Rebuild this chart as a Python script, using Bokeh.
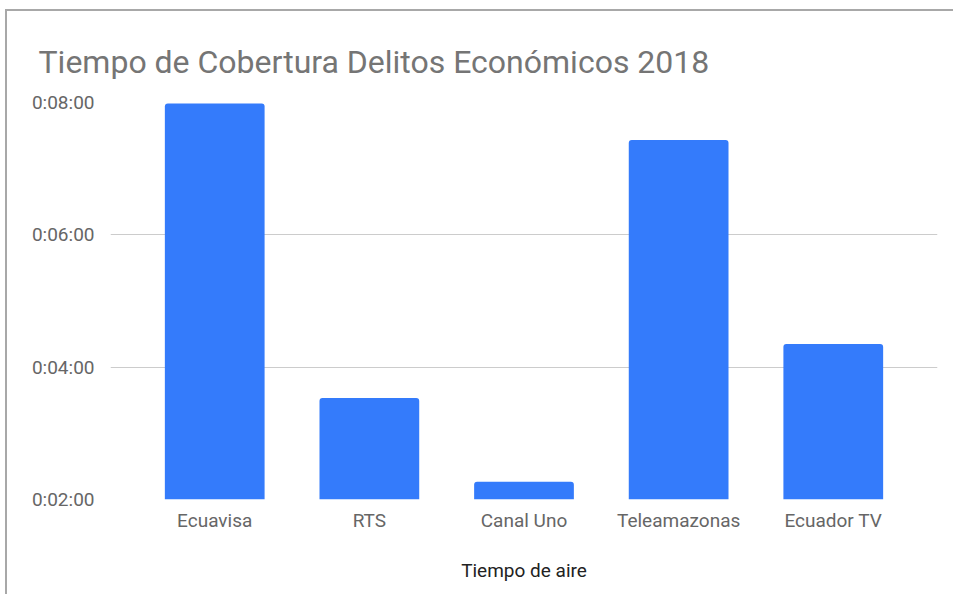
from bokeh.plotting import figure
from bokeh.models import FactorRange, FixedTicker, CustomJSTickFormatter, ColumnDataSource
from bokeh.embed import file_html
from bokeh.resources import INLINE

# ---- data ----
channels = ["Ecuavisa", "RTS", "Canal Uno", "Teleamazonas", "Ecuador TV"]
durations = ["0:07:59", "0:03:32", "0:02:16", "0:07:26", "0:04:21"]
y_ticks = ["0:02:00", "0:04:00", "0:06:00", "0:08:00"]
title_text = "Tiempo de Cobertura Delitos Económicos 2018"
x_title = "Tiempo de aire"


def to_sec(s):
    h, m, sec = s.split(":")
    return int(h) * 3600 + int(m) * 60 + int(sec)


secs = [to_sec(d) for d in durations]
tick_secs = [to_sec(t) for t in y_ticks]
base = tick_secs[0]

src = ColumnDataSource(dict(x=channels, top=secs, bottom=[base] * len(secs)))

FONT = "Roboto"

p = figure(
    x_range=FactorRange(*channels, range_padding=0.174, range_padding_units="absolute"),
    y_range=(tick_secs[0], tick_secs[-1]),
    width=948, height=585,
    output_backend="svg", toolbar_location=None,
    min_border_left=103, min_border_right=18, min_border_top=91, min_border_bottom=97,
    title=title_text,
)
p.margin = (9, 0, 0, 5)
p.styles = {"border-left": "2px solid #a8a8a8", "border-top": "2px solid #a8a8a8"}

p.vbar(x="x", top="top", bottom="bottom", width=0.645, source=src,
       fill_color="#347bfb", line_color=None, border_radius=(3, 3, 0, 0))

p.outline_line_color = None
p.background_fill_color = "white"
p.border_fill_color = "white"

# title
p.title.text_font = FONT
p.title.text_font_size = "32px"
p.title.text_font_style = "normal"
p.title.text_color = "#757575"
p.title.align = "left"
p.title.offset = -72
p.title.standoff = 43

# y axis
p.yaxis.ticker = FixedTicker(ticks=tick_secs)
p.yaxis.formatter = CustomJSTickFormatter(code="""
    const t = Math.round(tick);
    const h = Math.floor(t / 3600);
    const m = Math.floor((t % 3600) / 60);
    const s = t % 60;
    return h + ":" + String(m).padStart(2, "0") + ":" + String(s).padStart(2, "0");
""")
p.yaxis.axis_line_color = None
p.yaxis.major_tick_line_color = None
p.yaxis.minor_tick_line_color = None
p.yaxis.major_label_standoff = 10
p.yaxis.major_label_text_font = FONT
p.yaxis.major_label_text_font_size = "19px"
p.yaxis.major_label_text_color = "#666666"

# x axis
p.xaxis.axis_line_color = None
p.xaxis.major_tick_line_color = None
p.xaxis.minor_tick_line_color = None
p.xaxis.major_label_standoff = 3
p.xaxis.major_label_text_font = FONT
p.xaxis.major_label_text_font_size = "19px"
p.xaxis.major_label_text_color = "#666666"
p.xaxis.axis_label = x_title
p.xaxis.axis_label_text_font = FONT
p.xaxis.axis_label_text_font_size = "19px"
p.xaxis.axis_label_text_font_style = "normal"
p.xaxis.axis_label_text_color = "#222222"
p.xaxis.axis_label_standoff = 24

# grid
p.xgrid.grid_line_color = None
p.ygrid.grid_line_color = "#cccccc"
p.ygrid.grid_line_width = 1

open("out.html", "w").write(file_html(p, INLINE))
